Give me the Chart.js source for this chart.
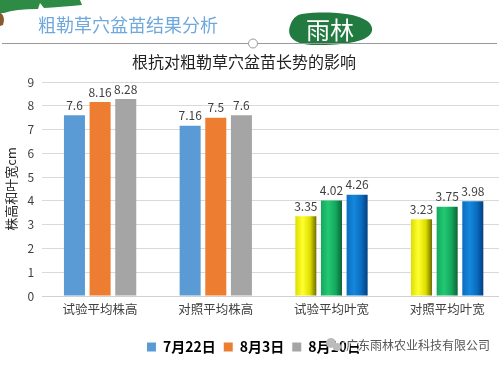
<!DOCTYPE html>
<html>
<head>
<meta charset="utf-8">
<script src="https://cdn.jsdelivr.net/npm/chart.js@4"></script>
<style>
  html, body { margin: 0; padding: 0; background: #fff; }
  #wrap { width: 499px; height: 365px; position: relative; overflow: hidden; }
</style>
</head>
<body>
<div id="wrap"><canvas id="chart" width="510" height="365"></canvas></div>
<script>
// data
let categories = ["试验平均株高", "对照平均株高", "试验平均叶宽", "对照平均叶宽"];
let seriesNames = ["7月22日", "8月3日", "8月10日"];
let jul22 = [7.6, 7.16, 3.35, 3.23];
let aug3 = [8.16, 7.5, 4.02, 3.75];
let aug10 = [8.28, 7.6, 4.26, 3.98];
let yTicks = [0, 1, 2, 3, 4, 5, 6, 7, 8, 9];

let legendColors = ["#5b9bd5", "#ed7d31", "#a5a5a5"];
// leaf width bars are painted with cylinder-like gradients in the original
let gradStops = [
  ["#dede00", "#ffff30", "#6e6e00"],
  ["#14a85c", "#22c874", "#0a6438"],
  ["#0a6cc0", "#1488dc", "#053e80"]
];

let font = "'Microsoft YaHei', 'Noto Sans CJK SC', sans-serif";

function barColor(si) {
  return function (ctx) {
    if (ctx.type === "data" && ctx.dataIndex >= 2) return gradStops[si][1];
    return legendColors[si];
  };
}

// swap flat colours for gradients once the bars have their positions
let gradients = {
  id: "gradients",
  beforeDatasetsDraw(chart) {
    let c = chart.ctx;
    chart.data.datasets.forEach(function (ds, i) {
      let meta = chart.getDatasetMeta(i);
      meta.data.forEach(function (bar, j) {
        if (j < 2) return;
        let w = bar.width;
        let g = c.createLinearGradient(bar.x - w / 2, 0, bar.x + w / 2, 0);
        g.addColorStop(0, gradStops[i][0]);
        g.addColorStop(0.35, gradStops[i][1]);
        g.addColorStop(0.7, gradStops[i][0]);
        g.addColorStop(1, gradStops[i][2]);
        bar.options.backgroundColor = g;
      });
    });
  }
};

// header, logo, chart title, watermark
let decor = {
  id: "decor",
  beforeDraw(chart) {
    let c = chart.ctx;
    c.save();
    c.fillStyle = "#fff";
    c.fillRect(0, 0, chart.width, chart.height);
    // leaf in corner
    c.fillStyle = "#2e8b45";
    c.beginPath();
    c.moveTo(0, 0); c.lineTo(80, 0); c.lineTo(82, 5);
    c.quadraticCurveTo(60, 7, 44, 8);
    c.lineTo(40, 3); c.lineTo(38, 9);
    c.quadraticCurveTo(15, 9, 4, 13);
    c.lineTo(0, 13); c.closePath(); c.fill();
    c.fillStyle = "#8a5a2e";
    c.beginPath(); c.moveTo(0, 12); c.quadraticCurveTo(6, 17, 3, 25); c.lineTo(0, 26); c.closePath(); c.fill();
    // header title
    c.fillStyle = "#6fa8dc";
    c.font = "18px " + font;
    c.textBaseline = "middle";
    c.fillText("粗勒草穴盆苗结果分析", 38, 25);
    // logo
    c.fillStyle = "#217a40";
    c.beginPath();
    c.moveTo(302, 14);
    c.bezierCurveTo(332, 10, 370, 14, 372, 28);
    c.bezierCurveTo(374, 40, 350, 45, 320, 45);
    c.bezierCurveTo(296, 46, 286, 38, 290, 26);
    c.bezierCurveTo(292, 19, 296, 15, 302, 14);
    c.fill();
    c.fillStyle = "#fff";
    c.font = "24px " + font;
    c.fillText("雨林", 306, 30);
    // rule with circle
    c.strokeStyle = "#999";
    c.lineWidth = 1;
    c.beginPath(); c.moveTo(2, 43.5); c.lineTo(497, 43.5); c.stroke();
    c.fillStyle = "#fff";
    c.beginPath(); c.arc(253, 43.5, 4.5, 0, Math.PI * 2); c.fill(); c.stroke();
    // chart title
    c.fillStyle = "#222";
    c.font = "16px " + font;
    c.textAlign = "center";
    c.fillText("根抗对粗勒草穴盆苗长势的影响", 244, 62);
    c.restore();
  },
  afterDraw(chart) {
    let c = chart.ctx;
    c.save();
    // wechat mark
    c.fillStyle = "#bbb";
    c.beginPath(); c.arc(331, 343, 5, 0, Math.PI * 2); c.fill();
    c.beginPath(); c.arc(337, 347, 4, 0, Math.PI * 2); c.fill();
    c.font = "12px " + font;
    c.textBaseline = "middle";
    c.lineWidth = 3;
    c.strokeStyle = "rgba(255,255,255,0.85)";
    c.strokeText("广东雨林农业科技有限公司", 346, 345);
    c.fillStyle = "#555";
    c.fillText("广东雨林农业科技有限公司", 346, 345);
    c.restore();
  }
};

// value labels over each bar
let valueLabels = {
  id: "valueLabels",
  afterDatasetsDraw(chart) {
    let c = chart.ctx;
    c.save();
    c.font = "12px " + font;
    c.fillStyle = "#404040";
    c.textAlign = "center";
    c.textBaseline = "bottom";
    chart.data.datasets.forEach(function (ds, i) {
      let meta = chart.getDatasetMeta(i);
      meta.data.forEach(function (bar, j) {
        c.fillText(String(ds.data[j]), bar.x, bar.y - 4);
      });
    });
    c.restore();
  }
};

let allSeries = [jul22, aug3, aug10];
let datasets = allSeries.map(function (vals, i) {
  return {
    label: seriesNames[i],
    data: vals,
    backgroundColor: barColor(i),
    borderWidth: 0,
    barPercentage: 0.82,
    categoryPercentage: 0.665
  };
});

new Chart(document.getElementById("chart"), {
  type: "bar",
  data: { labels: categories, datasets: datasets },
  plugins: [decor, gradients, valueLabels],
  options: {
    responsive: false,
    animation: false,
    events: [],
    layout: { padding: { top: 82, left: 3, right: 5, bottom: 1 } },
    plugins: {
      title: { display: false },
      legend: {
        position: "bottom",
        labels: {
          color: "#333",
          font: { family: font, size: 14, weight: "bold" },
          boxWidth: 9,
          boxHeight: 9,
          padding: 8,
          generateLabels: function (chart) {
            return seriesNames.map(function (n, i) {
              return { text: n, fillStyle: legendColors[i], strokeStyle: legendColors[i], lineWidth: 0, datasetIndex: i };
            });
          }
        }
      },
      tooltip: { enabled: false }
    },
    scales: {
      x: {
        grid: { display: false, drawTicks: false },
        border: { color: "#d0d0d0" },
        ticks: { color: "#404040", font: { family: font, size: 12.5 }, padding: 6 },
        afterFit: function (axis) { axis.height = 36; }
      },
      y: {
        min: 0,
        max: 9,
        afterBuildTicks: function (axis) { axis.ticks = yTicks.map(function (v) { return { value: v }; }); },
        grid: { color: "#d9d9d9", drawTicks: false },
        border: { display: false },
        ticks: { color: "#404040", font: { family: font, size: 12 }, padding: 8 },
        title: {
          display: true,
          text: "株高和叶宽cm",
          color: "#262626",
          font: { family: font, size: 13 },
          padding: { top: 0, bottom: 1 }
        }
      }
    }
  }
});
</script>
</body>
</html>
